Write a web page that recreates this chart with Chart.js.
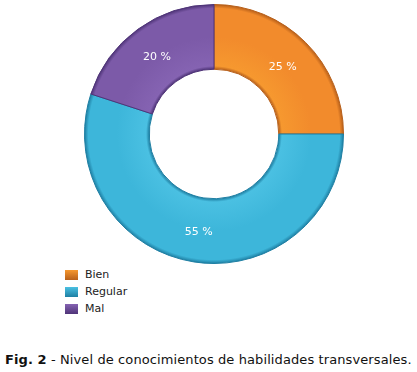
<!DOCTYPE html>
<html>
<head>
<meta charset="utf-8">
<script src="https://cdn.jsdelivr.net/npm/chart.js@4"></script>
<style>
  body { margin: 0; background: #fff; width: 417px; height: 372px; position: relative; overflow: hidden; font-family: Verdana, "DejaVu Sans", sans-serif; }
  #wrap { position: absolute; left: 84px; top: 4px; width: 260px; height: 260px; }
  #legend { position: absolute; left: 65px; top: 266px; font-size: 11px; color: #222; }
  #legend div { height: 17px; line-height: 17px; display: flex; align-items: center; }
  #legend span.box { display: inline-block; width: 13px; height: 10px; margin-right: 7px; }
  #caption { position: absolute; left: 5px; top: 352px; font-size: 13px; letter-spacing: 0.1px; color: #111; white-space: nowrap; }
</style>
</head>
<body>
<div id="wrap"><canvas id="donut"></canvas></div>
<div id="legend"></div>
<div id="caption"><b>Fig. 2</b> - Nivel de conocimientos de habilidades transversales.</div>
<script>
const labels = ['Bien', 'Regular', 'Mal'];
const values = [25, 55, 20];
const colors = ['#F28B2C', '#3DB6DA', '#7C5AA8'];
const darkColors = ['#B8601A', '#1E7FA3', '#4F3478'];
const lightColors = ['#F6982F', '#4AC0E2', '#8563B2'];

// simple html legend
const legend = document.getElementById('legend');
labels.forEach((l, i) => {
  const row = document.createElement('div');
  row.innerHTML = `<span class="box" style="background:linear-gradient(${lightColors[i]}, ${darkColors[i]})"></span>${l}`;
  legend.appendChild(row);
});

// radial shading across the ring, for the bevel look
const shade = (ctx) => {
  const i = ctx.dataIndex;
  const chart = ctx.chart;
  const arc = chart.getDatasetMeta(0).data[0];
  if (!arc || !arc.outerRadius) return colors[i];
  const r0 = arc.innerRadius, r1 = arc.outerRadius;
  const g = chart.ctx.createRadialGradient(arc.x, arc.y, r0, arc.x, arc.y, r1);
  g.addColorStop(0, darkColors[i]);
  g.addColorStop(0.05, lightColors[i]);
  g.addColorStop(0.5, colors[i]);
  g.addColorStop(0.94, colors[i]);
  g.addColorStop(1, darkColors[i]);
  return g;
};

const pctLabels = {
  id: 'pctLabels',
  afterDatasetsDraw(chart) {
    const ctx = chart.ctx;
    ctx.save();
    ctx.fillStyle = '#fff';
    ctx.font = '11px Verdana, "DejaVu Sans", sans-serif';
    ctx.textAlign = 'center';
    ctx.textBaseline = 'middle';
    chart.getDatasetMeta(0).data.forEach((arc, i) => {
      const p = arc.tooltipPosition();
      ctx.fillText(values[i] + ' %', p.x, p.y + 2);
    });
    ctx.restore();
  }
};

const chart = new Chart(document.getElementById('donut'), {
  type: 'doughnut',
  data: {
    labels: labels,
    datasets: [{
      data: values,
      backgroundColor: shade,
      borderColor: darkColors,
      borderWidth: 1,
    }]
  },
  options: {
    responsive: true,
    maintainAspectRatio: false,
    animation: false,
    cutout: '50%',
    plugins: {
      legend: { display: false },
      tooltip: { enabled: false },
    }
  },
  plugins: [pctLabels]
});
// second pass so the gradients see the final radii
chart.update('none');
</script>
</body>
</html>
